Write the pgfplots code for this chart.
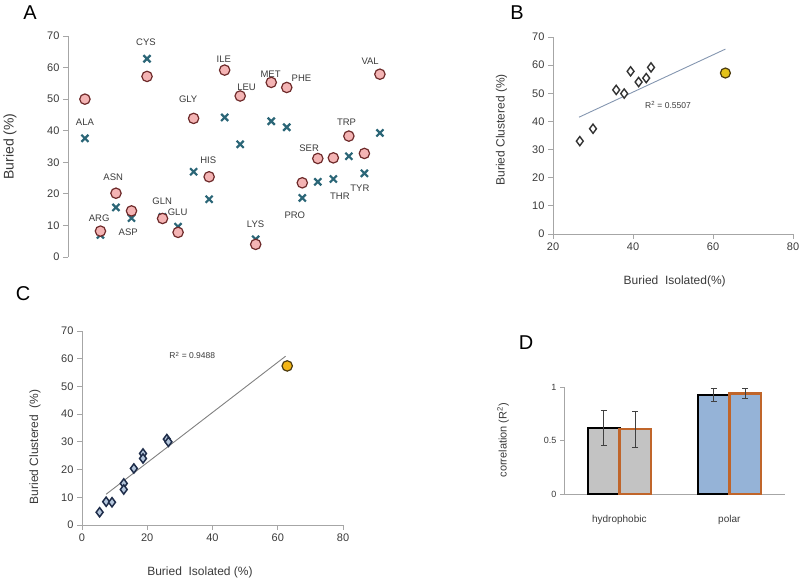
\documentclass[border=0pt]{standalone}
\usepackage{fontspec}
\setmainfont{Liberation Sans}
\usepackage{pgfplots}
\pgfplotsset{compat=1.18}

\definecolor{axisgray}{HTML}{A6A6A6}
\definecolor{textgray}{HTML}{3A3A3A}
\definecolor{pinkfill}{HTML}{F4B4B4}
\definecolor{pinkedge}{HTML}{6E2A2A}
\definecolor{tealx}{HTML}{2B6677}
\definecolor{yellowB}{HTML}{E3C21A}
\definecolor{yellowC}{HTML}{F2B516}
\definecolor{dkedge}{HTML}{4A3A10}
\definecolor{bluefillC}{HTML}{B4C6DC}
\definecolor{navy}{HTML}{1F2D4A}
\definecolor{barblue}{HTML}{95B3D7}
\definecolor{bargray}{HTML}{C3C3C3}
\definecolor{barorange}{HTML}{C0652A}
\definecolor{trendB}{HTML}{8496B0}

\pgfplotsset{
  panel/.style={
    scale only axis, anchor=south west, clip=false,
    axis line style={draw=axisgray, line width=0.8pt},
    tick style={draw=axisgray, line width=0.8pt},
    tick align=outside, major tick length=5pt,
    ticklabel style={font=\fontsize{11}{13}\selectfont, text=textgray},
    /pgf/number format/assume math mode=true,
    label style={font=\fontsize{12}{14}\selectfont, text=textgray},
  },
}

\newcommand{\aalab}[3]{\node[font=\fontsize{9.5}{11}\selectfont, text=textgray] at (axis cs:#1,#2) {#3};}

\begin{document}
\begin{tikzpicture}
\path[use as bounding box] (0,0) rectangle (800pt,580pt);

% panel letters
\node[font=\fontsize{20}{24}\selectfont] at (30pt,567pt) {A};
\node[font=\fontsize{20}{24}\selectfont] at (517pt,567pt) {B};
\node[font=\fontsize{20}{24}\selectfont] at (23pt,286pt) {C};
\node[font=\fontsize{20}{24}\selectfont] at (526pt,237pt) {D};

% ---------------- A ----------------
\begin{axis}[panel,
  at={(68pt,323pt)}, width=322pt, height=221pt,
  xmin=-1.09, xmax=19.65, ymin=0, ymax=70,
  axis x line=none, axis y line*=left,
  ytick={0,10,...,70},
  ylabel={Buried (\%)},
  ylabel style={at={(axis description cs:-0.18,0.5)}, anchor=center,
    font=\fontsize{14}{16}\selectfont},
]
\addplot[only marks, mark=x, mark size=5pt, mark options={line width=2.2pt, draw=tealx}]
  coordinates {(0,37.6) (1,7) (2,15.7) (3,12.3) (4,62.8) (5,12.7) (6,9.6) (7,27)
  (8,18.3) (9,44.2) (10,35.7) (11,5.6) (12,43) (13,41.1) (14,18.7) (15,23.8)
  (16,24.7) (17,31.9) (18,26.5) (19,39.3)};
\addplot[only marks, mark=*, mark size=5.2pt, mark options={fill=pinkfill, draw=pinkedge, line width=1.2pt}]
  coordinates {(0,50) (1,8.2) (2,20.2) (3,14.6) (4,57.2) (5,12.2) (6,7.8) (7,43.9)
  (8,25.4) (9,59.2) (10,51) (11,4.0) (12,55.3) (13,53.7) (14,23.5) (15,31.2)
  (16,31.4) (17,38.3) (18,32.8) (19,57.9)};
\aalab{0}{42.8}{ALA}
\aalab{0.92}{12.2}{ARG}
\aalab{1.82}{25.4}{ASN}
\aalab{2.79}{7.7}{ASP}
\aalab{3.93}{68.1}{CYS}
\aalab{4.98}{17.8}{GLN}
\aalab{5.97}{14.1}{GLU}
\aalab{6.65}{50}{GLY}
\aalab{7.94}{30.7}{HIS}
\aalab{8.95}{62.5}{ILE}
\aalab{10.41}{53.7}{LEU}
\aalab{10.99}{10.4}{LYS}
\aalab{11.96}{57.9}{MET}
\aalab{13.95}{56.7}{PHE}
\aalab{13.52}{13.1}{PRO}
\aalab{14.44}{34.4}{SER}
\aalab{16.42}{19.3}{THR}
\aalab{16.85}{42.8}{TRP}
\aalab{17.71}{21.7}{TYR}
\aalab{18.37}{62}{VAL}
\end{axis}

% ---------------- B ----------------
\begin{axis}[panel,
  at={(553pt,346pt)}, width=240pt, height=197pt,
  xmin=20, xmax=80, ymin=0, ymax=70,
  axis x line*=bottom, axis y line*=left,
  xtick={20,40,60,80}, ytick={0,10,...,70},
  xlabel={Buried\ \ Isolated(\%)}, ylabel={Buried Clustered (\%)},
  xlabel style={at={(axis description cs:0.507,-0.243)}, anchor=center},
  ylabel style={at={(axis description cs:-0.215,0.529)}, anchor=center},
]
\addplot[trendB, line width=0.9pt] coordinates {(26.5,41.5) (63.1,65.7)};
\addplot[only marks, mark=diamond*, mark size=4.6pt, mark options={fill=white, draw=black!80, line width=1.4pt}]
  coordinates {(26.7,33) (30,37.4) (35.8,51.2) (37.8,49.9) (39.4,57.8) (41.4,54) (43.3,55.4) (44.5,59.2)};
\addplot[only marks, mark=*, mark size=5pt, mark options={fill=yellowB, draw=dkedge, line width=1.2pt}]
  coordinates {(63.1,57.2)};
\node[font=\fontsize{8.5}{10}\selectfont, text=textgray] at (axis cs:48.75,45.9) {R\textsuperscript{2} = 0.5507};
\end{axis}

% ---------------- C ----------------
\begin{axis}[panel,
  at={(82pt,55pt)}, width=261pt, height=194pt,
  xmin=0, xmax=80, ymin=0, ymax=70,
  axis x line*=bottom, axis y line*=left,
  xtick={0,20,...,80}, ytick={0,10,...,70},
  xlabel={Buried\ \ Isolated (\%)}, ylabel={Buried Clustered\ \ (\%)},
  xlabel style={at={(axis description cs:0.452,-0.245)}, anchor=center},
  ylabel style={at={(axis description cs:-0.18,0.403)}, anchor=center},
]
\addplot[gray, line width=0.9pt] coordinates {(7.4,11.1) (62.4,60.9)};
\addplot[only marks, mark=diamond*, mark size=4.6pt, mark options={fill=bluefillC, draw=navy, line width=1.5pt}]
  coordinates {(5.4,4.6) (7.4,8.4) (9.2,8.2) (12.8,15.0) (12.8,12.8) (15.9,20.4)
  (18.7,25.8) (18.7,24.0) (26,31.0) (26.5,30.0)};
\addplot[only marks, mark=*, mark size=5.2pt, mark options={fill=yellowC, draw=dkedge, line width=1.2pt}]
  coordinates {(62.9,57.4)};
\node[font=\fontsize{8.5}{10}\selectfont, text=textgray] at (axis cs:33.8,61.2) {R\textsuperscript{2} = 0.9488};
\end{axis}

% ---------------- D ----------------
\begin{axis}[panel,
  at={(564pt,86pt)}, width=221pt, height=107pt,
  xmin=-0.503, xmax=1.506, ymin=0, ymax=1,
  axis x line*=bottom, axis y line*=left,
  ybar=0pt, bar width=31.5pt,
  xtick={0,1}, xticklabels={hydrophobic, polar},
  major x tick style={draw=none},
  xticklabel style={yshift=-14pt, font=\fontsize{10}{12}\selectfont},
  ytick={0,0.5,1}, yticklabels={0,0.5,1},
  yticklabel style={font=\fontsize{9}{11}\selectfont},
  major tick length=4pt,
  ylabel={correlation (R\textsuperscript{2})},
  ylabel style={at={(axis description cs:-0.276,0.503)}, anchor=center,
    font=\fontsize{11}{13}\selectfont},
  error bars/y dir=both, error bars/y explicit,
  error bars/error bar style={line width=0.8pt, draw=black!75},
  error bars/error mark options={rotate=90, mark size=3pt, line width=0.8pt, draw=black!75},
]
\addplot[bar shift=-15.75pt, fill=bargray, draw=black, line width=2.4pt]
  coordinates {(0,0.618) +- (0,0.165)};
\addplot[bar shift=15.75pt, fill=bargray, draw=barorange, line width=2.4pt]
  coordinates {(0,0.606) +- (0,0.168)};
\addplot[bar shift=-15.75pt, fill=barblue, draw=black, line width=2.4pt]
  coordinates {(1,0.923) +- (0,0.062)};
\addplot[bar shift=15.75pt, fill=barblue, draw=barorange, line width=2.4pt]
  coordinates {(1,0.938) +- (0,0.048)};
\end{axis}
\end{tikzpicture}
\end{document}
